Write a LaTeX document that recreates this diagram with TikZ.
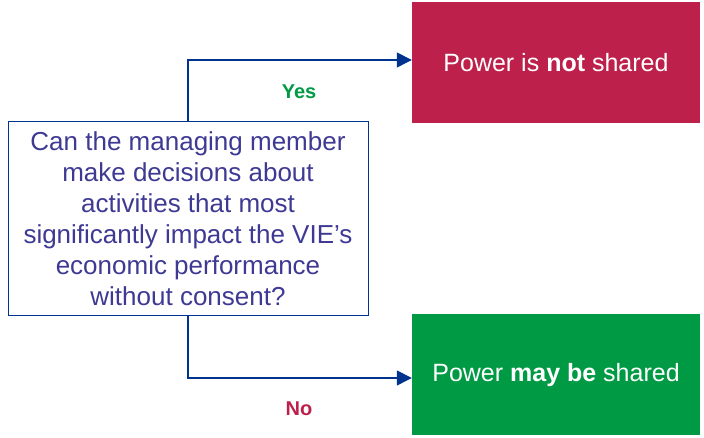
\documentclass[tikz,border=0pt]{standalone}
\usepackage{fontspec}
\setmainfont{Liberation Sans}
\usetikzlibrary{arrows.meta}
\definecolor{qblue}{HTML}{00338D}
\definecolor{qtext}{HTML}{3E3A94}
\definecolor{kred}{HTML}{BC204B}
\definecolor{kgreen}{HTML}{009A44}
\begin{document}
\begin{tikzpicture}[x=1pt,y=1pt,
  qbox/.style={draw=qblue,line width=1pt,fill=white,minimum width=360pt,minimum height=194pt,inner sep=0pt,align=center,text=qtext,font=\fontsize{26}{31}\selectfont},
  outbox/.style={minimum width=288pt,minimum height=121pt,inner sep=0pt,text=white,font=\fontsize{25}{28}\selectfont},
  conn/.style={draw=qblue,line width=1.3pt,-{Triangle[length=15pt,width=15pt]}},
  lbl/.style={font=\bfseries\fontsize{20}{23}\selectfont}]
\useasboundingbox (0,0) rectangle (704,438);
\node[qbox] (q) at (188,219) {Can the managing member\\make decisions about\\activities that most\\significantly impact the VIE’s\\economic performance\\without consent?};
\node[outbox,fill=kred] (yes) at (556,375.5) {Power is \textbf{not} shared};
\node[outbox,fill=kgreen] (no) at (556,63) {Power \textbf{may be} shared};
\coordinate (c1) at (188,378);
\coordinate (c2) at (188,60);
\draw[conn] (q.north) -- (c1) -- (yes.west |- c1);
\draw[conn] (q.south) -- (c2) -- (no.west |- c2);
\node[lbl,text=kgreen] (ly) at (299,346) {Yes};
\node[lbl,text=kred] (ln) at (299,29) {No};
\end{tikzpicture}
\end{document}
